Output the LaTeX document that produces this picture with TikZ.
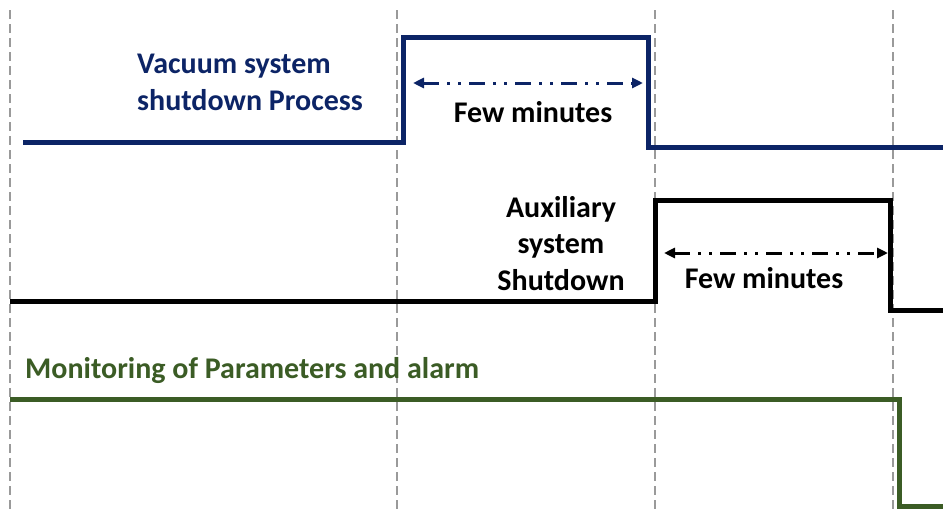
\documentclass[tikz,border=0pt]{standalone}
\usepackage{fontspec}
\setmainfont{Carlito}
\usetikzlibrary{arrows.meta}
\definecolor{navy}{HTML}{0C2466}
\definecolor{leaf}{HTML}{3B5C25}
\definecolor{guide}{HTML}{9A9A9A}
\tikzset{
  guideline/.style={guide, line width=1.6pt, dash pattern=on 9pt off 5pt},
  signal/.style={line width=5pt, line join=miter},
  span/.style={line width=3pt, dash pattern=on 16pt off 8pt on 3pt off 8pt on 3pt off 8pt, {Triangle[length=11pt,width=10pt]}-{Triangle[length=11pt,width=10pt]}},
  lbl/.style={font=\bfseries\fontsize{30}{36.5}\selectfont, inner sep=0pt},
}
\begin{document}
\begin{tikzpicture}[x=1pt,y=-1pt]
\useasboundingbox (0,0) rectangle (943,512);
% guides
\foreach \gx/\nm in {10/ga,397/gb,655/gc,893/gd}{
  \coordinate (\nm top) at (\gx,10);
  \coordinate (\nm bot) at (\gx,512);
  \draw[guideline] (\nm top) -- (\nm bot);
}
% vacuum signal
\draw[signal, navy] (23,142) -- (403,142) -- (403,37) -- (648,37) -- (648,147) -- (943,147);
% auxiliary signal
\draw[signal, black] (10,301) -- (655,301) -- (655,200) -- (890,200) -- (890,310) -- (943,310);
% monitoring signal
\draw[signal, leaf] (10,399) -- (899,399) -- (899,506) -- (943,506);
% arrows
\coordinate (a1l) at (413,83); \coordinate (a1r) at (643,83);
\draw[span, navy] (a1l) -- (a1r);
\coordinate (a2l) at (664,253); \coordinate (a2r) at (888,253);
\draw[span, black] (a2l) -- (a2r);
% labels
\node[lbl, navy, align=left, anchor=north west] (vac) at (137,54) {Vacuum system\\shutdown Process};
\node[lbl, anchor=base] (few1) at (533,122) {Few minutes};
\node[lbl, align=center, anchor=north] (aux) at (561,196) {Auxiliary\\system\\Shutdown};
\node[lbl, anchor=base] (few2) at (764,288) {Few minutes};
\node[lbl, leaf, anchor=base west] (mon) at (25,378) {Monitoring of Parameters and alarm};
\end{tikzpicture}
\end{document}
